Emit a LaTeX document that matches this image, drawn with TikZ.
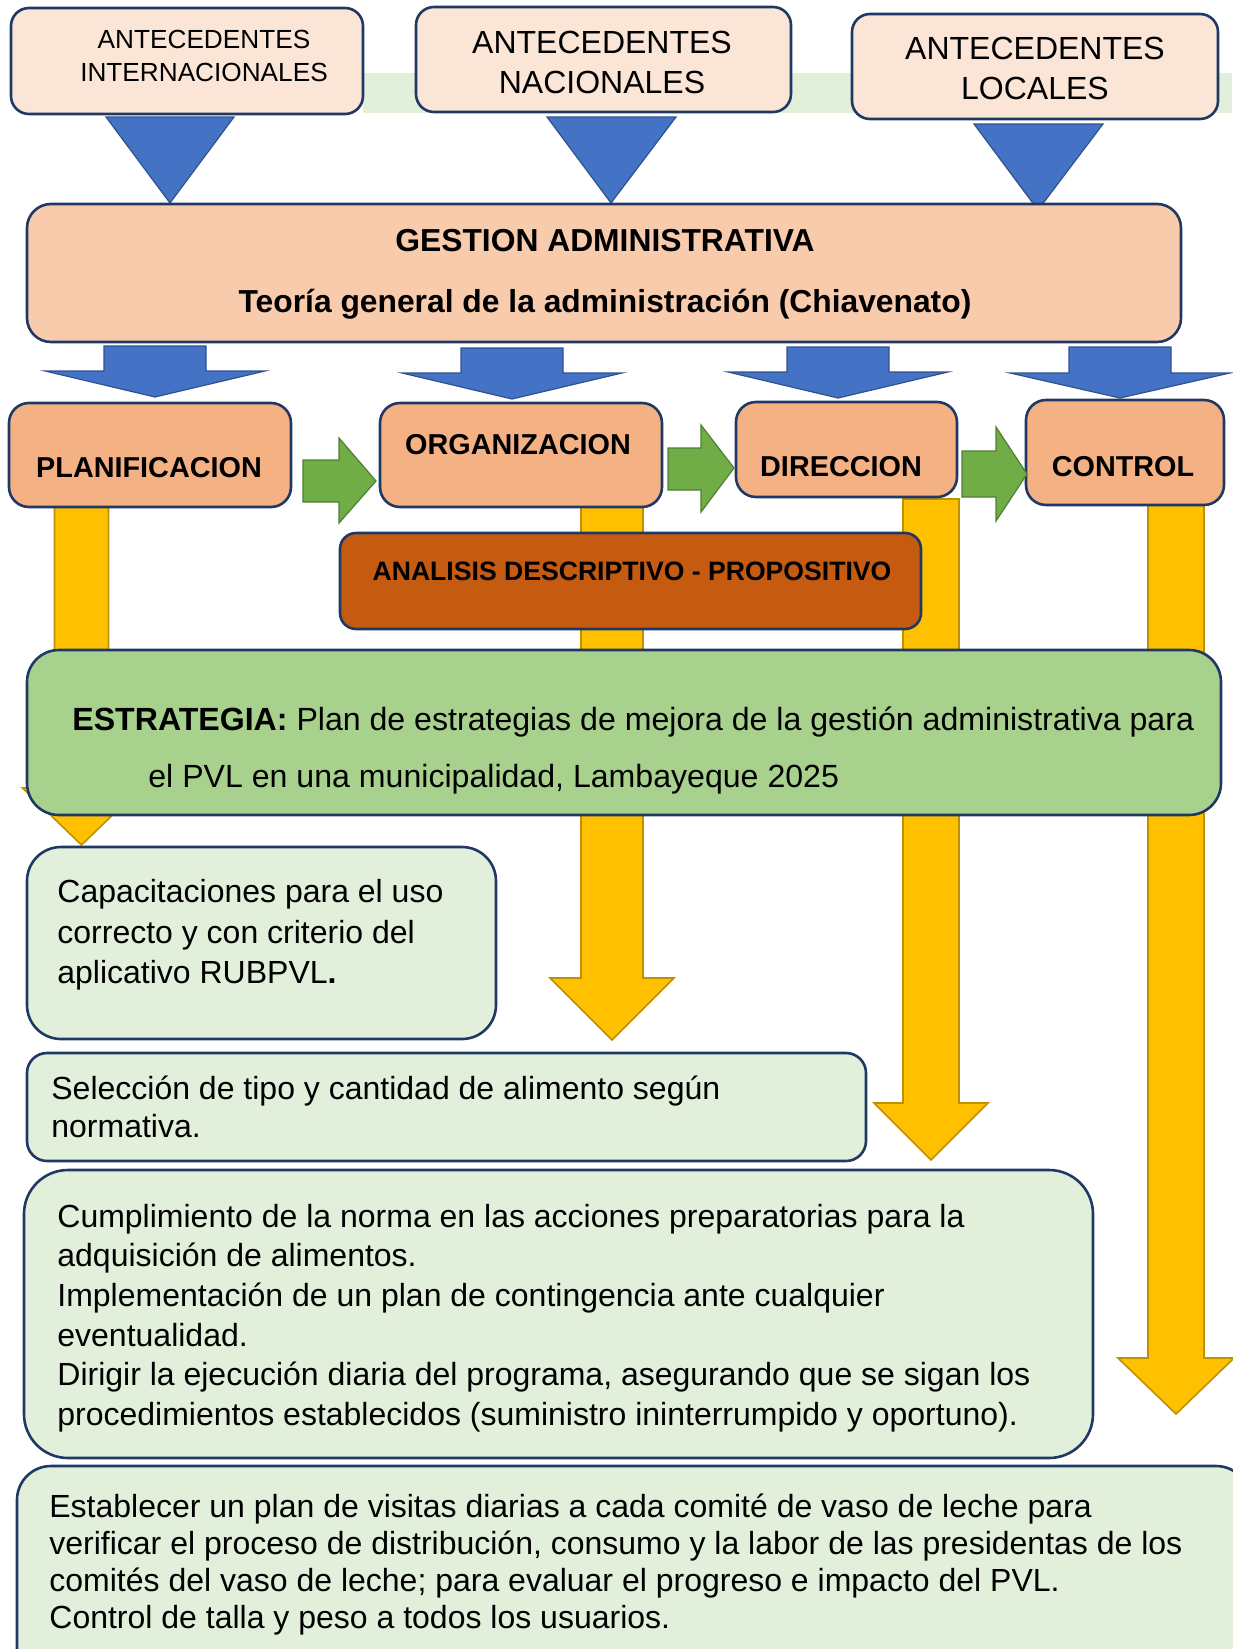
\documentclass[tikz,border=0pt]{standalone}
\usepackage{fontspec}
\setmainfont{Liberation Sans}

\definecolor{navy}{HTML}{1F3864}
\definecolor{peachlight}{HTML}{FBE5D6}
\definecolor{peach}{HTML}{F8CBAD}
\definecolor{salmon}{HTML}{F4B183}
\definecolor{rust}{HTML}{C55A11}
\definecolor{leaf}{HTML}{A9D18E}
\definecolor{mint}{HTML}{E2EFDA}
\definecolor{arrowblue}{HTML}{4472C4}
\definecolor{arrowblueline}{HTML}{2F528F}
\definecolor{arrowgreen}{HTML}{70AD47}
\definecolor{arrowgreenline}{HTML}{507E32}
\definecolor{gold}{HTML}{FFC000}
\definecolor{goldline}{HTML}{BF9000}

\begin{document}
\begin{tikzpicture}[x=0.5pt,y=-0.5pt]

% Define styles
\tikzstyle{box}=[draw=navy, line width=1.3pt]
\tikzstyle{bluearrow}=[fill=arrowblue, draw=arrowblueline, line width=0.6pt, line join=miter]
\tikzstyle{greenarrow}=[fill=arrowgreen, draw=arrowgreenline, line width=0.6pt]
\tikzstyle{goldarrow}=[fill=gold, draw=goldline, line width=0.8pt]
\tikzstyle{headtext}=[inner sep=0pt, font=\bfseries\fontsize{15.9}{19}\selectfont]
\tikzstyle{steptext}=[inner sep=0pt, font=\bfseries\fontsize{14.4}{17}\selectfont]
\tikzstyle{bodytext}=[inner sep=0pt, anchor=west, align=left]

% Canvas
\useasboundingbox (0,0) rectangle (1232,1649);

% Green band behind the top boxes
\fill[mint] (363,73) rectangle (1232,113);

% Antecedentes
\foreach \xa/\ya/\xb/\yb in {11/8/363/114, 416/7/791/112, 852/14/1218/119} {
  \draw[box, fill=peachlight, rounded corners=9pt] (\xa,\ya) rectangle (\xb,\yb);
}
\node[inner sep=0pt, align=center, font=\fontsize{13.1}{16.5}\selectfont] (intl) at (204,56) {ANTECEDENTES\\INTERNACIONALES};
\node[inner sep=0pt, align=center, font=\fontsize{16}{20}\selectfont] (nac) at (602,62) {ANTECEDENTES\\NACIONALES};
\node[inner sep=0pt, align=center, font=\fontsize{16}{20}\selectfont] (loc) at (1035,68) {ANTECEDENTES\\LOCALES};

% Blue triangles into the main box
\foreach \xa/\xb/\ya/\tx/\ty in {106/234/117/170/203, 547/676/117/611/203, 974/1103/124/1038/210} {
  \draw[bluearrow] (\xa,\ya) -- (\xb,\ya) -- (\tx,\ty) -- cycle;
}

% Gestion administrativa
\draw[box, fill=peach, rounded corners=12pt] (27,204) rectangle (1181,342);
\node[headtext] (gestion) at (605,241) {GESTION ADMINISTRATIVA};
\node[headtext] (teoria) at (605,304) {Teoría general de la administración (Chiavenato)};

% Blue block arrows
\foreach \cx/\ya/\yb/\ty in {155/346/371/397, 512/348/373/399, 838/347/372/398, 1120/347/373/398} {
  \draw[bluearrow] (\cx-51,\ya) -- (\cx+51,\ya) -- (\cx+51,\yb) -- (\cx+110,\yb) -- (\cx,\ty)
    -- (\cx-110,\yb) -- (\cx-51,\yb) -- cycle;
}

% Yellow arrows (behind the boxes)
\foreach \cx/\sw/\hb/\hw/\ty in {81.5/27/788/59/845, 612/31/978/62/1040, 931/28/1103/57/1160, 1176/28/1358/58/1414} {
  \draw[goldarrow] (\cx-\sw,499) -- (\cx+\sw,499) -- (\cx+\sw,\hb) -- (\cx+\hw,\hb) -- (\cx,\ty)
    -- (\cx-\hw,\hb) -- (\cx-\sw,\hb) -- cycle;
}

% Process steps
\foreach \xa/\ya/\xb/\yb in {9/403/291/507, 380/403/662/507, 736/402/957/497, 1026/400/1224/505} {
  \draw[box, fill=salmon, rounded corners=10pt] (\xa,\ya) rectangle (\xb,\yb);
}
\node[steptext] (plan) at (149,468) {PLANIFICACION};
\node[steptext] (org) at (518,445) {ORGANIZACION};
\node[steptext] (dir) at (841,467) {DIRECCION};
\node[steptext] (ctrl) at (1123,467) {CONTROL};

% Green arrows between steps
\foreach \xa/\sa/\sb/\hx/\ha/\hb/\tx/\ty in {303/460/502/339/438/523/376/481, 668/448/490/701/425/512/734/468, 962/451/497/996/427/521/1027/474} {
  \draw[greenarrow] (\xa,\sa) -- (\hx,\sa) -- (\hx,\ha) -- (\tx,\ty) -- (\hx,\hb) -- (\hx,\sb)
    -- (\xa,\sb) -- cycle;
}

% Analisis
\draw[box, fill=rust, rounded corners=8pt] (340,533) rectangle (921,629);
\node[inner sep=0pt, font=\bfseries\fontsize{13.3}{16}\selectfont] (analisis) at (632,571) {ANALISIS DESCRIPTIVO - PROPOSITIVO};

% Estrategia
\draw[box, fill=leaf, rounded corners=16pt] (27,650) rectangle (1221,815);
\node[bodytext, font=\fontsize{16.05}{28.5}\selectfont] (estrategia) at (72,751)
  {\textbf{ESTRATEGIA:} Plan de estrategias de mejora de la gestión administrativa para\\
   \hspace{38pt}el PVL en una municipalidad, Lambayeque 2025};

% Actions
\draw[box, fill=mint, rounded corners=17pt] (27,847) rectangle (496,1039);
\node[bodytext, font=\fontsize{16}{20.2}\selectfont] (capac) at (57,935)
  {Capacitaciones para el uso\\correcto y con criterio del\\aplicativo RUBPVL\textbf{.}};

\draw[box, fill=mint, rounded corners=10pt] (27,1053) rectangle (866,1161);
\node[bodytext, font=\fontsize{16}{19}\selectfont] (selec) at (51,1107)
  {Selección de tipo y cantidad de alimento según\\normativa.};

\draw[box, fill=mint, rounded corners=22pt] (24,1170) rectangle (1093,1458);
\node[bodytext, font=\fontsize{16}{19.8}\selectfont] (cumpl) at (57,1318)
  {Cumplimiento de la norma en las acciones preparatorias para la\\
   adquisición de alimentos.\\
   Implementación de un plan de contingencia ante cualquier\\
   eventualidad.\\
   Dirigir la ejecución diaria del programa, asegurando que se sigan los\\
   procedimientos establecidos (suministro ininterrumpido y oportuno).};

\draw[box, fill=mint, rounded corners=17pt] (17,1466) rectangle (1250,1700);
\node[bodytext, font=\fontsize{16}{18.5}\selectfont] (estab) at (49,1565)
  {Establecer un plan de visitas diarias a cada comité de vaso de leche para\\
   verificar el proceso de distribución, consumo y la labor de las presidentas de los\\
   comités del vaso de leche; para evaluar el progreso e impacto del PVL.\\
   Control de talla y peso a todos los usuarios.};

\end{tikzpicture}
\end{document}
